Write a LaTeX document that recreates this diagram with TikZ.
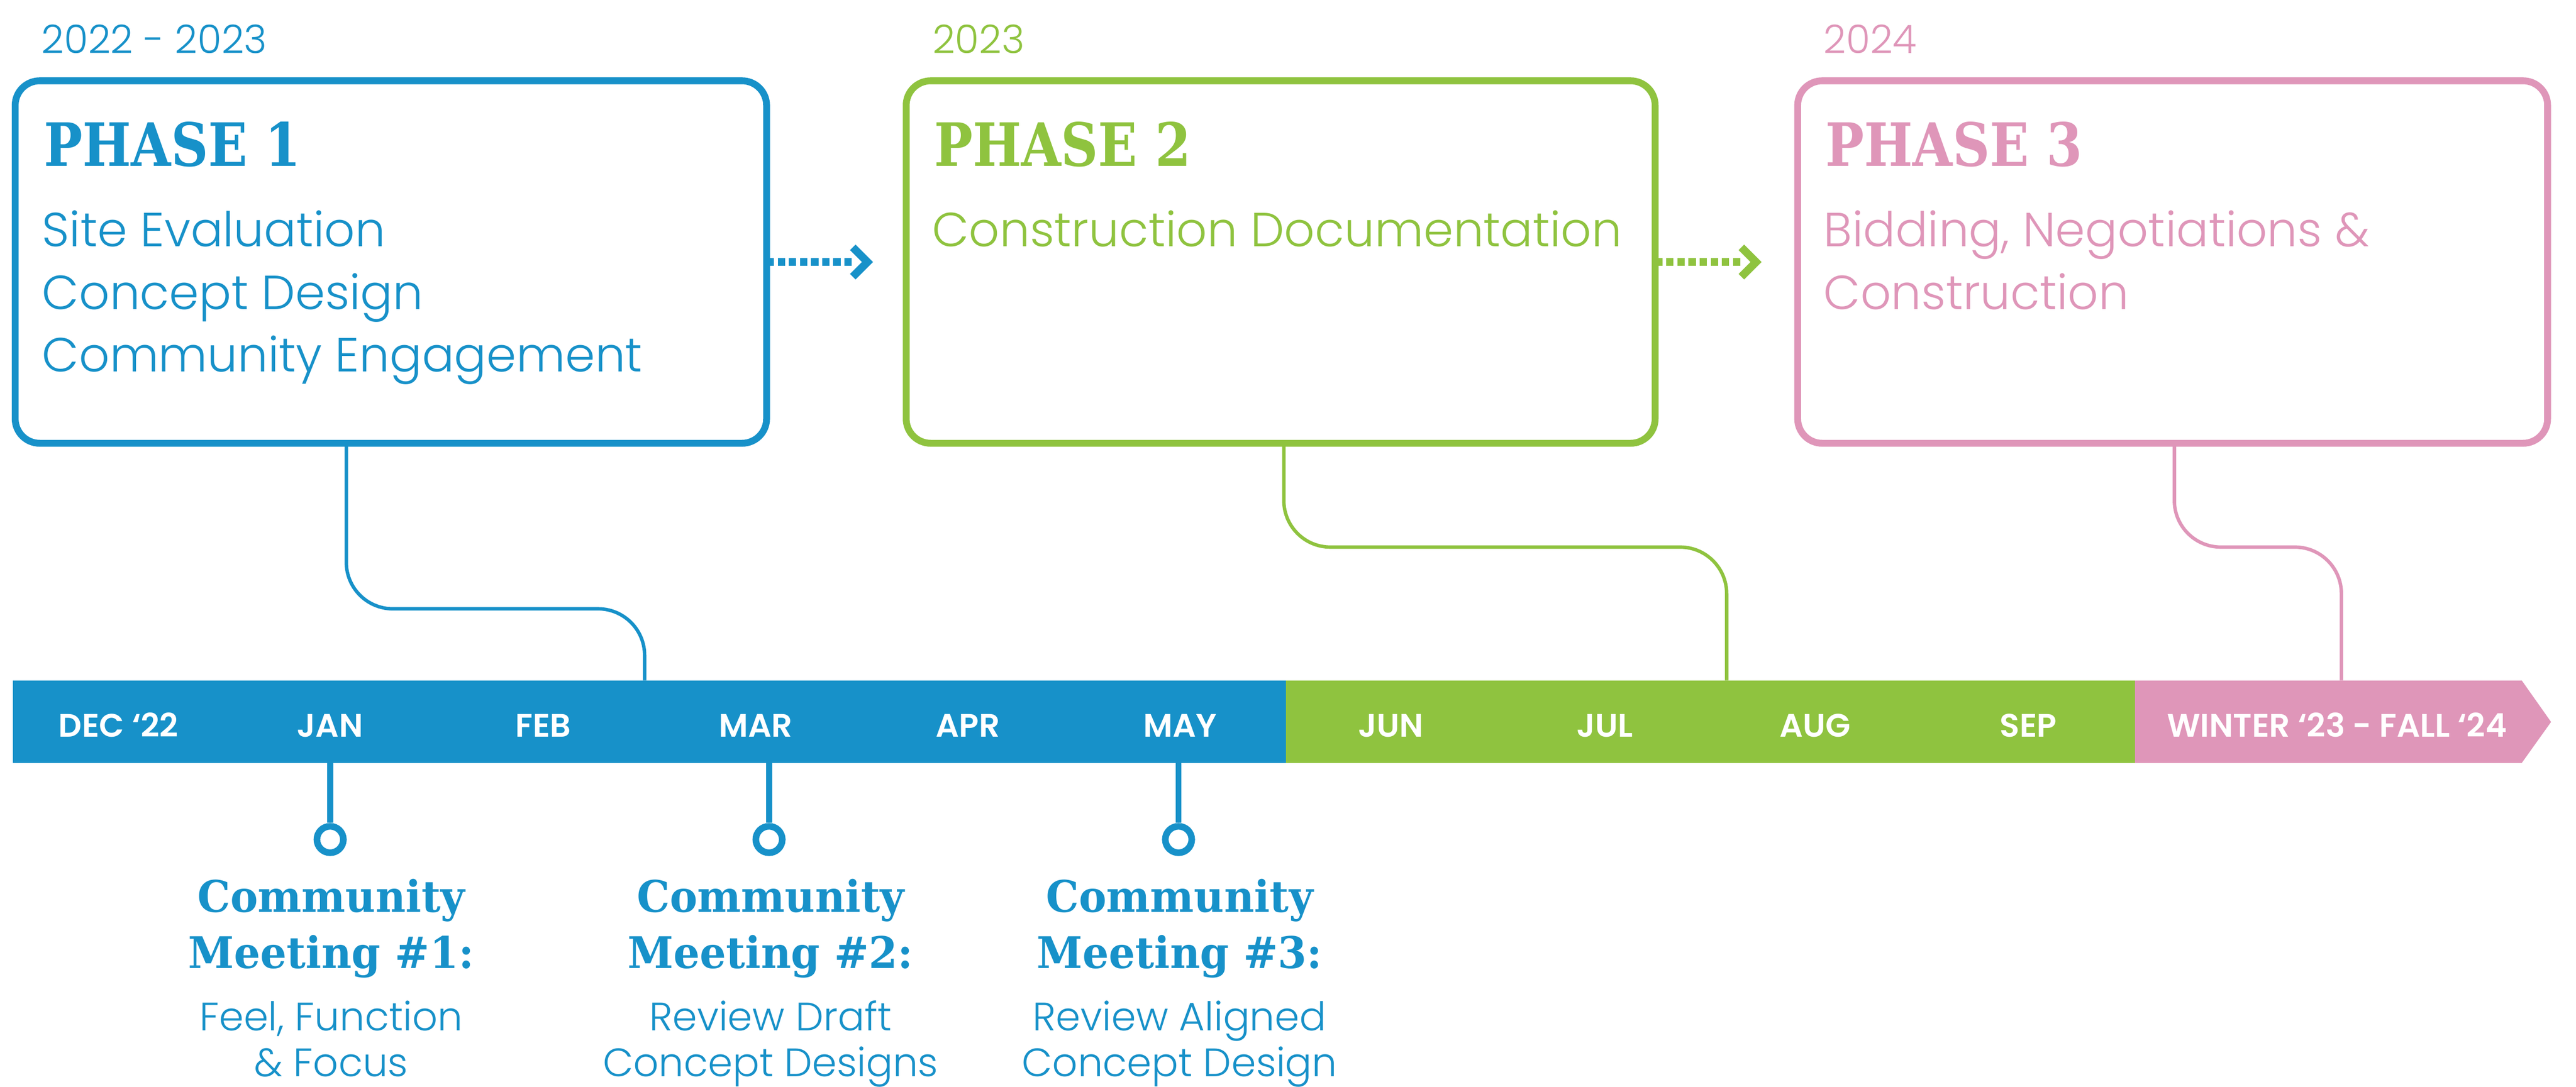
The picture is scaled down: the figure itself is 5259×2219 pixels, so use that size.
\documentclass[tikz,border=0pt]{standalone}
\usepackage{fontspec}
\usetikzlibrary{calc}
\IfFontExistsTF{Poppins Light}{\newfontfamily\litefont{Poppins Light}}{\newfontfamily\litefont{Poppins}}
\IfFontExistsTF{Poppins SemiBold}{\newfontfamily\semifont{Poppins SemiBold}}{\newfontfamily\semifontbase{Poppins}\newcommand\semifont{\semifontbase\bfseries}}
\newfontfamily\slabA{DejaVu Serif}[FakeStretch=0.86]
\newfontfamily\slabB{DejaVu Serif}[FakeStretch=0.95]
\definecolor{cblue}{HTML}{1791C9}
\definecolor{cgreen}{HTML}{8FC33F}
\definecolor{cpink}{HTML}{DF96B9}
\newcommand\yrface{\litefont\fontsize{22.8pt}{27pt}\selectfont}
\newcommand\bodyface{\litefont\fontsize{27.8pt}{36pt}\selectfont}
\newcommand\subface{\litefont\fontsize{23pt}{27pt}\selectfont}
\newcommand\monthface{\semifont\fontsize{18.9pt}{22pt}\selectfont}
\newcommand\phaseface{\slabA\bfseries\fontsize{34.7pt}{40pt}\selectfont}
\newcommand\meetface{\slabB\bfseries\fontsize{25.3pt}{30pt}\selectfont}
\begin{document}
\begin{tikzpicture}[x=0.1mm,y=-0.1mm,
  phasebox/.style={draw=#1, line width=1.4mm, rounded corners=5mm, minimum height=74mm, inner sep=0pt, outer sep=0pt, anchor=north west},
  txt/.style={inner sep=0pt, outer sep=0pt, anchor=base west, text=#1},
  ctxt/.style={inner sep=0pt, outer sep=0pt, anchor=base, text=#1},
  link/.style={draw=#1, line width=0.7mm, rounded corners=9.5mm},
  dotline/.style={draw=#1, line width=1.6mm, dash pattern=on 1.5mm off 0.77mm},
  chev/.style={draw=#1, line width=1.6mm, line join=miter, miter limit=4},
  barseg/.style={fill=#1, minimum height=16.9mm, inner sep=0pt, outer sep=0pt, anchor=north west},
  monthlbl/.style={inner sep=0pt, outer sep=0pt, anchor=base, text=white, font=\monthface},
  dot/.style={circle, draw=cblue, line width=1.35mm, minimum size=5.4mm, inner sep=0pt, fill=white},
  stemline/.style={draw=cblue, line width=1.25mm}
]
\fill[white] (0,0) rectangle (5259,2219);
\useasboundingbox (0,0) rectangle (5259,2219);

% years
\node[txt=cblue, font=\yrface] (y1) at (85,109) {2022 - 2023};
\node[txt=cgreen, font=\yrface] (y2) at (1904,109) {2023};
\node[txt=cpink, font=\yrface] (y3) at (3723,109) {2024};

% phase boxes
\node[phasebox=cblue, minimum width=153.4mm] (p1) at (31,165) {};
\node[phasebox=cgreen, minimum width=152.9mm] (p2) at (1850,165) {};
\node[phasebox=cpink, minimum width=153.1mm] (p3) at (3670,165) {};

% titles
\node[txt=cblue, font=\phaseface] (t1) at (90,339) {PHASE 1};
\node[txt=cgreen, font=\phaseface] (t2) at (1907,339) {PHASE 2};
\node[txt=cpink, font=\phaseface] (t3) at (3727,339) {PHASE 3};

% body text
\node[txt=cblue, font=\bodyface] (b11) at (86,503) {Site Evaluation};
\node[txt=cblue, font=\bodyface] (b12) at (86,632) {Concept Design};
\node[txt=cblue, font=\bodyface] (b13) at (86,759) {Community Engagement};
\node[txt=cgreen, font=\bodyface] (b21) at (1903,503) {Construction Documentation};
\node[txt=cpink, font=\bodyface] (b31) at (3723,503) {Bidding, Negotiations \&};
\node[txt=cpink, font=\bodyface] (b32) at (3723,632) {Construction};

% dotted arrows between boxes
\draw[dotline=cblue] (p1.east) -- ++(180,0) coordinate (a1);
\draw[chev=cblue] (a1) ++(-4,-30) -- ++(30,30) -- ++(-30,30);
\draw[dotline=cgreen] (p2.east) -- ++(180,0) coordinate (a2);
\draw[chev=cgreen] (a2) ++(-4,-30) -- ++(30,30) -- ++(-30,30);

% timeline bar
\node[barseg=cblue, minimum width=259.9mm] (barB) at (26,1389) {};
\node[barseg=cgreen, minimum width=173.4mm] (barG) at (2625,1389) {};
\node[barseg=cpink, minimum width=79mm] (barP) at (4359,1389) {};
\fill[cpink] ($(barP.north east)+(-1,0)$) -- ++(60,85) -- ($(barP.south east)+(-1,0)$) -- cycle;

% month labels
\node[monthlbl] (mDec) at (242,1505) {DEC ‘22};
\node[monthlbl] (mJan) at (674,1505) {JAN};
\node[monthlbl] (mFeb) at (1109,1505) {FEB};
\node[monthlbl] (mMar) at (1543,1505) {MAR};
\node[monthlbl] (mApr) at (1976,1505) {APR};
\node[monthlbl] (mMay) at (2409,1505) {MAY};
\node[monthlbl] (mJun) at (2840,1505) {JUN};
\node[monthlbl] (mJul) at (3276,1505) {JUL};
\node[monthlbl] (mAug) at (3706,1505) {AUG};
\node[monthlbl] (mSep) at (4141,1505) {SEP};
\node[monthlbl] (mWin) at (4771,1505) {WINTER ‘23 - FALL ‘24};

% connectors from phase boxes to the bar
\draw[link=cblue] ($(p1.south west)+(676,0)$) -- (707,1243) -- (1316,1243) -- ($(barB.north west)+(1290,0)$);
\draw[link=cgreen] ($(p2.south west)+(771,0)$) -- (2621,1117) -- (3525,1117) -- ($(barG.north west)+(900,0)$);
\draw[link=cpink] ($(p3.south west)+(769,0)$) -- (4439,1117) -- (4780,1117) -- ($(barP.north west)+(421,0)$);

% meetings
\node[dot] (m1c) at (674,1714) {};
\node[dot] (m2c) at (1570,1714) {};
\node[dot] (m3c) at (2406,1714) {};
\draw[stemline] (barB.south -| m1c) -- (m1c.north);
\draw[stemline] (barB.south -| m2c) -- (m2c.north);
\draw[stemline] (barB.south -| m3c) -- (m3c.north);

\node[ctxt=cblue, font=\meetface] (m1a) at (676,1862) {Community};
\node[ctxt=cblue, font=\meetface] (m1b) at (676,1977) {Meeting \#1:};
\node[ctxt=cblue, font=\subface] (m1d) at (676,2104) {Feel, Function};
\node[ctxt=cblue, font=\subface] (m1e) at (676,2198) {\& Focus};

\node[ctxt=cblue, font=\meetface] (m2a) at (1573,1862) {Community};
\node[ctxt=cblue, font=\meetface] (m2b) at (1573,1977) {Meeting \#2:};
\node[ctxt=cblue, font=\subface] (m2d) at (1573,2104) {Review Draft};
\node[ctxt=cblue, font=\subface] (m2e) at (1573,2198) {Concept Designs};

\node[ctxt=cblue, font=\meetface] (m3a) at (2408,1862) {Community};
\node[ctxt=cblue, font=\meetface] (m3b) at (2408,1977) {Meeting \#3:};
\node[ctxt=cblue, font=\subface] (m3d) at (2408,2104) {Review Aligned};
\node[ctxt=cblue, font=\subface] (m3e) at (2408,2198) {Concept Design};
\end{tikzpicture}
\end{document}
